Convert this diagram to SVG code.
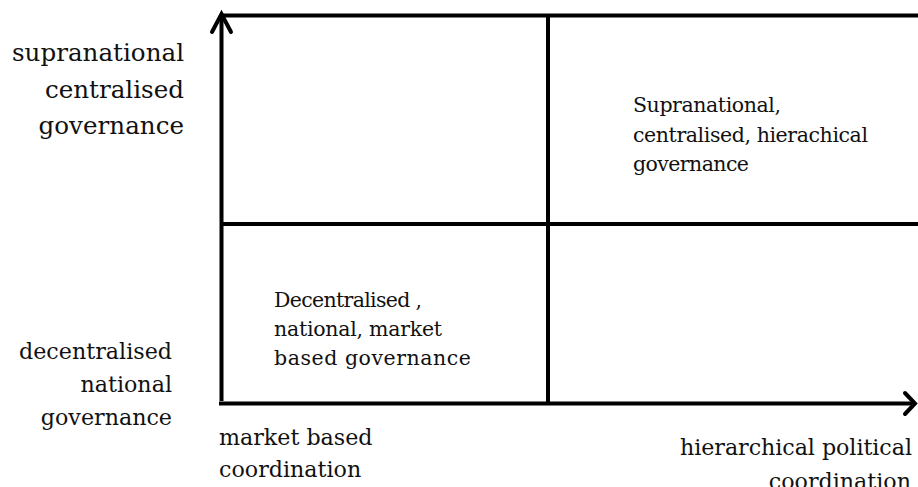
<svg xmlns="http://www.w3.org/2000/svg" width="918" height="487" viewBox="0 0 918 487">
  <style>
    .ln { stroke: #000; stroke-width: 4; fill: none; stroke-linecap: butt; }
    .hd { stroke: #000; stroke-width: 4; fill: none; stroke-linejoin: miter; stroke-linecap: round; }
    text { font-family: "DejaVu Serif", "Liberation Serif", serif; fill: #111; }
    .big { font-size: 24.6px; }
    .mid { font-size: 22.2px; }
    .cell { font-size: 20.5px; }
    .end { text-anchor: end; }
  </style>
  <rect width="918" height="487" fill="#fff"/>

  <!-- grid: frame and quadrant dividers -->
  <g id="grid">
    <line class="ln" x1="221" y1="15.5" x2="918" y2="15.5"/>
    <line class="ln" x1="221" y1="224" x2="918" y2="224"/>
    <line class="ln" x1="548" y1="15" x2="548" y2="402"/>
  </g>

  <!-- axes -->
  <g id="connectors">
    <line class="ln" x1="221.5" y1="401" x2="221.5" y2="15"/>
    <polyline class="hd" points="212,32 221.5,14 231,32"/>
    <line class="ln" x1="219" y1="403.5" x2="913" y2="403.5"/>
    <polyline class="hd" points="905,393 915,403.5 905,414"/>
  </g>

  <g id="label-top-left">
    <text class="big end" x="184" y="61" textLength="172">supranational</text>
    <text class="big end" x="184" y="98">centralised</text>
    <text class="big end" x="184" y="134">governance</text>
  </g>

  <g id="label-bottom-left">
    <text class="mid end" x="172" y="359" textLength="153">decentralised</text>
    <text class="mid end" x="172" y="392">national</text>
    <text class="mid end" x="172" y="425">governance</text>
  </g>

  <g id="cell-market">
    <text class="cell" x="274" y="307" textLength="148">Decentralised ,</text>
    <text class="cell" x="274" y="336" textLength="168">national, market</text>
    <text class="cell" x="274" y="365" textLength="197">based governance</text>
  </g>

  <g id="cell-hierarchical">
    <text class="cell" x="633" y="112" textLength="148">Supranational,</text>
    <text class="cell" x="633" y="142" textLength="235">centralised, hierachical</text>
    <text class="cell" x="633" y="171" textLength="116">governance</text>
  </g>

  <g id="label-x-left">
    <text class="mid" x="219" y="445">market based</text>
    <text class="mid" x="219" y="477">coordination</text>
  </g>

  <g id="label-x-right">
    <text class="mid end" x="912" y="455" textLength="232">hierarchical political</text>
    <text class="mid end" x="911" y="489">coordination</text>
  </g>
</svg>
